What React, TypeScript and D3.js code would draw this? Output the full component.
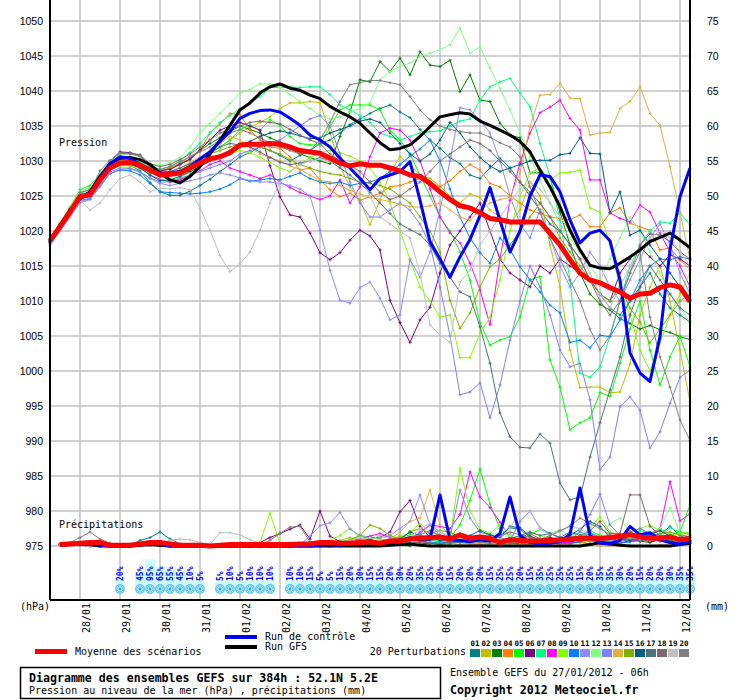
import React from 'react'
import * as d3 from 'd3'

// run of 27/01/2012 06h, one step every 6 hours, 384 hours
const RUN_START = Date.UTC(2012, 0, 27, 6)
const STEP_H = 6
const RANGE_H = 384

const pressureTicks = [975, 980, 985, 990, 995, 1000, 1005, 1010, 1015, 1020, 1025, 1030, 1035, 1040, 1045, 1050]
const precipTicks = [0, 5, 10, 15, 20, 25, 30, 35, 40, 45, 50, 55, 60, 65, 70, 75]

// probability of snow (%) per 6h step, 0 = nothing drawn
const snowPercent = [0, 0, 0, 0, 0, 0, 0, 20, 0, 45, 95, 65, 55, 45, 10, 5, 0, 5, 10, 5, 10, 10, 10, 0, 10, 10, 15, 5, 5, 15, 20, 30, 15, 15, 20, 30, 20, 35, 25, 20, 15, 20, 20, 20, 15, 25, 25, 20, 15, 35, 25, 25, 25, 15, 20, 35, 35, 30, 20, 15, 20, 20, 30, 35, 35]

// sea level pressure (hPa), 65 steps
const meanPressure = [1018.6, 1020.6, 1022.7, 1024.9, 1025.2, 1027.3, 1029.0, 1029.7, 1029.8, 1029.4, 1028.7, 1028.0, 1028.1, 1028.3, 1029.0, 1029.7, 1030.3, 1030.6, 1031.2, 1032.3, 1032.4, 1032.4, 1032.5, 1032.4, 1032.0, 1031.5, 1031.3, 1031.1, 1030.4, 1029.7, 1029.3, 1029.6, 1029.4, 1029.4, 1029.0, 1028.6, 1028.0, 1027.8, 1026.8, 1025.6, 1024.5, 1023.6, 1023.3, 1022.6, 1021.8, 1021.6, 1021.3, 1021.3, 1021.3, 1021.3, 1019.7, 1018.0, 1015.9, 1014.0, 1013.0, 1012.6, 1011.9, 1011.3, 1010.4, 1011.0, 1011.1, 1011.9, 1012.3, 1012.0, 1009.9]
const gfsPressure = [1018.6, 1020.8, 1023, 1024.6, 1025.6, 1027.8, 1029.6, 1030.4, 1030.5, 1030.2, 1029.5, 1028.3, 1027.3, 1026.9, 1027.8, 1029.2, 1031, 1033, 1035.1, 1037.3, 1038.3, 1039.7, 1040.6, 1041, 1040.4, 1040.1, 1039.4, 1038.9, 1037.8, 1037, 1036.3, 1035.4, 1034, 1032.6, 1031.6, 1031.8, 1032.3, 1033.5, 1034.9, 1036.3, 1036.6, 1036.9, 1036.7, 1035.7, 1035.1, 1034.4, 1033.7, 1032.8, 1031.3, 1028.7, 1026.3, 1023.5, 1020.1, 1017.3, 1015.1, 1014.7, 1014.6, 1015.4, 1016.3, 1017.3, 1018.5, 1019.1, 1019.7, 1018.7, 1017.6]
const controlPressure = [1018.6, 1020.8, 1022.8, 1024.8, 1025.5, 1027.6, 1029.6, 1030.6, 1030.4, 1029.5, 1028.6, 1028.3, 1028.3, 1028.5, 1029.2, 1030.3, 1031.3, 1032.8, 1034.2, 1036.1, 1036.8, 1037.2, 1037.3, 1037, 1036.1, 1035.1, 1033.7, 1033, 1032, 1030.4, 1029, 1027.5, 1025.9, 1027.5, 1028, 1028.5, 1029.9, 1024.4, 1018.5, 1016, 1013.4, 1016.3, 1018.8, 1022.2, 1026.2, 1021.5, 1017, 1020, 1025, 1028, 1027.8, 1025.6, 1021.6, 1018.3, 1019.7, 1020.1, 1018.6, 1013, 1002.6, 999.7, 998.5, 1004.9, 1017.3, 1024.9, 1029]

const p01Pressure = [1018.5, 1020.4, 1022.5, 1024.6, 1025.3, 1027.1, 1029.2, 1029.5, 1029.4, 1028.6, 1026.9, 1025.6, 1025.1, 1025.1, 1025.7, 1026.5, 1027.4, 1028.5, 1029.5, 1030.6, 1031.2, 1032, 1031.5, 1030.8, 1030, 1030.8, 1031.5, 1032.5, 1033, 1034, 1035.2, 1036, 1036.8, 1037.5, 1038, 1037, 1036.2, 1034.5, 1033, 1031.8, 1030.5, 1029.6, 1028, 1027.5, 1029, 1030.4, 1029, 1027, 1025, 1023, 1021, 1020, 1018, 1016, 1013, 1011, 1009, 1008, 1010, 1012, 1014, 1011, 1009, 1008, 1007]
const p02Pressure = [1018.7, 1020.8, 1022.8, 1025, 1025.3, 1027.4, 1029.3, 1029.9, 1029.8, 1029.3, 1028.4, 1027.8, 1028, 1028.6, 1029.4, 1030.3, 1031.2, 1032, 1033, 1034, 1034.8, 1035.5, 1036.3, 1037.5, 1038.3, 1038.3, 1038.5, 1038.3, 1034, 1029.2, 1026.3, 1024.4, 1020.9, 1024.4, 1028.3, 1030.6, 1029.5, 1028, 1027.5, 1026.4, 1025, 1024, 1025.3, 1024.8, 1023, 1022, 1021, 1023, 1027, 1025, 1018, 1012, 1003, 997.6, 997.7, 997.7, 996.9, 997, 1001, 1008, 1012, 1015, 1010, 1003, 995.6]
const p03Pressure = [1018.7, 1020.9, 1023, 1025.2, 1025.4, 1027.6, 1029.8, 1030.4, 1030.2, 1029.8, 1028.7, 1028.5, 1029, 1029.6, 1030.2, 1031.5, 1032.5, 1033.3, 1034.2, 1035, 1034.5, 1034, 1033.3, 1032.7, 1031.8, 1031, 1030.5, 1030, 1029.6, 1033.5, 1037, 1041.6, 1041.3, 1044.2, 1042.8, 1044.7, 1042.3, 1045.6, 1043.7, 1043.5, 1044.4, 1039.9, 1042.3, 1038.7, 1038.5, 1035.4, 1033.7, 1033.3, 1028.3, 1028.3, 1027.6, 1022.7, 1018, 1014, 1011, 1009.5, 1008.7, 1007.5, 1006.8, 1006, 1006.5, 1005.9, 1005.5, 1004.9, 1004.5]
const p04Pressure = [1018.6, 1020.7, 1022.9, 1025, 1025.5, 1027.6, 1029.5, 1030.2, 1030.1, 1029.6, 1028.9, 1028.6, 1029, 1029.7, 1030.6, 1031.5, 1034, 1035.3, 1036.8, 1036.6, 1034.4, 1033, 1032, 1031.8, 1030.6, 1028.7, 1029, 1027.3, 1025.9, 1024.9, 1025.4, 1024.4, 1024.9, 1025.4, 1026.3, 1026.5, 1027, 1027.5, 1027, 1026.3, 1027.2, 1028.5, 1029.5, 1028.7, 1026.8, 1026.3, 1025, 1024, 1023, 1022.5, 1022, 1021.8, 1021.6, 1022.3, 1020.6, 1020.6, 1022.6, 1023.3, 1021.1, 1020.6, 1020.1, 1017.3, 1017.6, 1015.9, 1014.5]
const p05Pressure = [1018.6, 1021, 1023.4, 1025.9, 1026.5, 1028, 1029.9, 1030.5, 1030.3, 1029.6, 1028.5, 1028.2, 1028, 1028.5, 1029.3, 1030.3, 1031, 1032, 1033, 1034.5, 1035.1, 1034.4, 1035.9, 1035.1, 1033.5, 1032.5, 1032.3, 1032.3, 1034.9, 1037.3, 1038, 1038, 1038, 1037.3, 1034.4, 1033, 1031, 1028, 1025, 1022, 1020, 1017, 1013, 1006.9, 1003.7, 1004.4, 1004.9, 1007.7, 1013, 1013.5, 1001.6, 997.7, 991.6, 992.6, 993.3, 996.9, 996.4, 1001.1, 1006, 1010, 1003, 998, 1002, 1005, 1000.6]
const p06Pressure = [1018.4, 1020.5, 1022.6, 1024.5, 1025.5, 1027.6, 1030, 1031.3, 1031.2, 1030.8, 1029.3, 1028.6, 1028.8, 1029.5, 1030.3, 1031.6, 1033, 1034.4, 1035, 1035.5, 1035, 1034.4, 1029.3, 1024.9, 1022.3, 1022, 1019.7, 1016.9, 1015.9, 1016.9, 1018.7, 1020.1, 1019.3, 1017.3, 1010.1, 1006.9, 1004.1, 1007.3, 1009.1, 1014, 1018, 1020, 1022, 1024, 1020, 1016, 1014, 1013, 1012, 1015, 1014, 1016, 1015, 1014, 1013, 1011, 1010, 1014, 1016, 1017.7, 1016.3, 1015, 1016.6, 1016, 1015]
const p07Pressure = [1018.6, 1020.8, 1022.9, 1025.3, 1026, 1027.8, 1029.5, 1030.3, 1030.2, 1029.8, 1029.2, 1028.8, 1029.2, 1030, 1031.2, 1032.5, 1034, 1035.5, 1036.5, 1037.5, 1038.3, 1039.2, 1040.5, 1040.5, 1040.6, 1040.5, 1040.6, 1040.6, 1039.5, 1038, 1037.3, 1036.5, 1035.5, 1034, 1033.5, 1033, 1033.5, 1034, 1034.2, 1034.3, 1035, 1035.7, 1036, 1038.7, 1040.6, 1041.3, 1041.8, 1039.7, 1037.8, 1032.5, 1027.8, 1021.6, 1013, 999.7, 999.1, 1000.6, 1005, 1010, 1015, 1018, 1020, 1021.3, 1021.1, 1022.6, 1020.9]
const p08Pressure = [1018.3, 1020.3, 1022.4, 1024.6, 1025, 1027, 1028.8, 1029.4, 1029.5, 1029.1, 1028, 1027.4, 1027, 1027.3, 1028, 1028.6, 1029.5, 1030, 1029, 1028.5, 1028, 1027.5, 1028, 1027, 1026.2, 1025.5, 1025, 1024.5, 1025, 1027.3, 1024, 1026.3, 1030.6, 1034, 1034.7, 1034.4, 1033, 1030, 1026, 1022, 1019.7, 1018.3, 1015.4, 1011.6, 1006.6, 1016, 1024.4, 1029.7, 1034, 1036.9, 1037.7, 1038.7, 1036.1, 1034.4, 1027.3, 1027.3, 1022.6, 1021.8, 1021.3, 1023.7, 1022.7, 1019.7, 1017, 1015, 1012]
const p09Pressure = [1018.5, 1020.5, 1022.6, 1024.7, 1025.1, 1027.1, 1028.8, 1029.3, 1029.3, 1028.9, 1028, 1027.3, 1027.2, 1027.6, 1028.4, 1029.3, 1030, 1030.5, 1031, 1031.5, 1031.2, 1030.5, 1029.8, 1029, 1028.5, 1029.5, 1030.5, 1031.2, 1031.5, 1031.2, 1030.7, 1030, 1029, 1027, 1024, 1020, 1016, 1012, 1010, 1007.7, 1008, 1001.9, 1001.9, 1005.4, 1007.7, 1013, 1020, 1025, 1028.3, 1029, 1027.3, 1028.3, 1028.4, 1028.7, 1023.3, 1022.7, 1018, 1012, 1008, 1003, 1000, 1004, 1008, 1011, 1014]
const p10Pressure = [1018.4, 1020.3, 1022.3, 1024.3, 1024.7, 1026.5, 1028.2, 1028.7, 1028.6, 1028, 1026.8, 1025.6, 1025.5, 1025.4, 1025.3, 1025.4, 1025.6, 1026, 1026.6, 1027.5, 1027.1, 1027.3, 1027.5, 1027.3, 1027.8, 1028.3, 1027.5, 1027, 1026.8, 1027, 1026.5, 1026.8, 1027, 1027.5, 1028.5, 1029.5, 1030.7, 1031.7, 1033, 1030, 1026, 1022, 1019, 1016.9, 1015.4, 1019, 1017.3, 1014.9, 1013, 1011.3, 1009.4, 1008.3, 1004.1, 1004.4, 1003.3, 1005.1, 1004.9, 1007.3, 1010, 1013, 1015, 1016, 1015.9, 1016.3, 1016]
const p11Pressure = [1018.2, 1020.2, 1022.2, 1024.2, 1024.6, 1026.6, 1028.4, 1029, 1029, 1028.5, 1027.5, 1026.8, 1026.5, 1026.8, 1027.2, 1027.5, 1028, 1028.3, 1028, 1027.6, 1027.2, 1027, 1027, 1026.8, 1026.5, 1026, 1025, 1020.1, 1014.4, 1010.1, 1009.7, 1011.9, 1012.7, 1010.4, 1007.3, 1008, 1015.9, 1013.4, 1017, 1023, 1030, 1037.6, 1037.3, 1035.9, 1034, 1030, 1025, 1021, 1019, 1023, 1019, 1015, 1012, 1014, 1017, 1015, 1012, 1010, 1013, 1016, 1019, 1021, 1018, 1014, 1011]
const p12Pressure = [1018.8, 1021.2, 1023.5, 1025.6, 1026.2, 1028.2, 1030, 1030.9, 1031, 1030.6, 1029.6, 1029.4, 1029.8, 1030.5, 1032, 1034, 1035.4, 1036.8, 1038.2, 1039.7, 1040.2, 1041, 1041, 1040.5, 1039.5, 1038.5, 1037.5, 1036.5, 1036, 1036.3, 1037, 1037.5, 1038.3, 1041.6, 1042.8, 1043.5, 1044, 1044.9, 1045.4, 1045.9, 1046.6, 1049, 1045.4, 1046.3, 1043.3, 1040.4, 1037.3, 1034, 1030.6, 1027.3, 1024, 1021, 1019, 1017, 1015, 1013, 1016, 1019, 1022, 1020, 1017, 1014, 1011, 1009, 1007]
const p13Pressure = [1018, 1020, 1022, 1024, 1024.5, 1026.3, 1028.2, 1028.8, 1028.9, 1028.4, 1027.6, 1027, 1027, 1027.5, 1028, 1028.5, 1029, 1029.5, 1030, 1031, 1031.5, 1032, 1032.5, 1033, 1034, 1035, 1036, 1036.5, 1035, 1031, 1027, 1024, 1022, 1022, 1023, 1024, 1023, 1021, 1018, 1012, 1005, 996.6, 997, 998.3, 993.3, 998, 1004.4, 1010, 1015, 1012, 1008, 1003, 1000.6, 1001.1, 995.9, 985.9, 987.7, 994.9, 996.3, 994.4, 989, 991.3, 995.4, 999.1, 1000.1]
const p14Pressure = [1018.6, 1020.7, 1022.9, 1025.1, 1025.4, 1027.5, 1029.4, 1030, 1030, 1029.5, 1028.6, 1028.2, 1028.5, 1029, 1029.8, 1030.6, 1031.5, 1032.5, 1033.5, 1033, 1032, 1031, 1030.5, 1030, 1029.3, 1028.8, 1028, 1027.2, 1027, 1026.5, 1025.8, 1025.3, 1024.8, 1024.5, 1024.2, 1023.8, 1023.5, 1023.4, 1023.6, 1024, 1023, 1022, 1021.5, 1023, 1024, 1024.5, 1024.8, 1028.3, 1034.9, 1039.4, 1039.5, 1041.1, 1039, 1038.9, 1033.7, 1034, 1034.1, 1037.5, 1038.5, 1040.6, 1036.8, 1035.1, 1029.2, 1022.6, 1015.9]
const p15Pressure = [1018.5, 1020.6, 1022.7, 1024.8, 1025.2, 1027.2, 1029, 1029.6, 1029.6, 1029.1, 1028.3, 1027.9, 1028.2, 1028.7, 1029.5, 1030.2, 1031, 1031.5, 1032, 1032.5, 1032.3, 1032, 1031.5, 1031, 1030.2, 1029.5, 1029, 1028.5, 1028.2, 1028, 1027.5, 1027, 1026.8, 1026.5, 1026, 1025, 1024, 1022, 1020, 1017, 1010.1, 1006.1, 1008.3, 1012, 1014.9, 1016, 1018, 1020, 1022, 1024, 1022, 1019, 1017, 1015, 1013, 1011, 1010, 1012, 1009, 1007, 1004, 1006, 1008, 1010, 1011]
const p16Pressure = [1018.5, 1020.5, 1022.6, 1024.6, 1025, 1027, 1028.9, 1029.5, 1029.6, 1029, 1028, 1027.2, 1027.3, 1027.8, 1028.5, 1029.2, 1030, 1030.8, 1031.5, 1032, 1032.8, 1033.5, 1034, 1034.3, 1034, 1033.6, 1033.2, 1033.3, 1034, 1034.5, 1035, 1035.7, 1036, 1035.5, 1034, 1032.5, 1031, 1030, 1031, 1033, 1035.5, 1034, 1032, 1030.5, 1029.3, 1028.5, 1029, 1029.5, 1030, 1030.1, 1030.1, 1030.9, 1031.1, 1033.3, 1031.1, 1031, 1022.6, 1025.6, 1019.4, 1020.1, 1018, 1016, 1014, 1012, 1010]
const p17Pressure = [1018.6, 1020.6, 1022.8, 1024.9, 1025.3, 1027.4, 1029.2, 1029.8, 1029.9, 1029.5, 1028.8, 1028.3, 1028.5, 1029, 1029.6, 1030.4, 1031.2, 1032, 1032.5, 1032.3, 1032, 1031.3, 1030.5, 1029.8, 1029.5, 1029.7, 1030, 1030.5, 1030, 1029, 1028, 1026.8, 1025.5, 1024, 1022.5, 1021, 1020.2, 1019.5, 1018, 1015.4, 1013.4, 1011.3, 1010.6, 1006.3, 1001.1, 994, 990.6, 989.1, 989, 991, 989.7, 984, 981.6, 982, 987.7, 992.6, 997.3, 1002, 1008, 1012, 1015, 1013, 1011, 1009, 1008]
const p18Pressure = [1018.7, 1021, 1023.2, 1025.5, 1025.9, 1027.9, 1030, 1031.2, 1031.1, 1030.9, 1029.6, 1029.2, 1029.5, 1030.2, 1031, 1032, 1033, 1034, 1034.5, 1035, 1035.5, 1035.7, 1035.5, 1035.3, 1034.5, 1033.7, 1033, 1032.5, 1031, 1030, 1029.4, 1028.5, 1027, 1025.5, 1024.5, 1025, 1026, 1027, 1028.5, 1030, 1031, 1032, 1033, 1032.5, 1031.5, 1030, 1028.5, 1027, 1025.5, 1024, 1022, 1020, 1018, 1016, 1013, 1010, 1008, 1010, 1014, 1018, 1019.6, 1019.4, 1018.5, 1017, 1016]
const p19Pressure = [1018.3, 1020.1, 1022.1, 1024.4, 1023, 1024, 1025.9, 1027.5, 1028, 1027, 1025.6, 1026.1, 1026, 1026.2, 1025.9, 1023.3, 1020.1, 1016.5, 1014.2, 1015.3, 1017, 1020.1, 1024, 1027, 1028.5, 1029.5, 1030, 1030.3, 1030, 1029.5, 1029.5, 1028, 1025, 1022, 1021, 1020, 1019, 1014, 1006.6, 1005.1, 1004.1, 1012.7, 1014.4, 1018, 1020, 1022, 1024, 1026, 1027, 1026, 1024, 1022, 1020, 1017, 1014, 1011, 1009, 1012, 1015, 1017, 1019, 1020, 1019, 1017, 1015]
const p20Pressure = [1018.7, 1020.9, 1023.1, 1025.2, 1025.6, 1028.6, 1030.1, 1031.1, 1031, 1030.7, 1029.3, 1028.8, 1029.2, 1029.9, 1030.6, 1031.3, 1032, 1033, 1034, 1034.5, 1034, 1033.3, 1032.6, 1032, 1031.5, 1031, 1031.5, 1033, 1035.5, 1038.5, 1040.9, 1041.2, 1041.5, 1041.5, 1041.2, 1040.9, 1039.2, 1037.3, 1035.9, 1035, 1034.5, 1034.2, 1034, 1034, 1033.4, 1032.6, 1032, 1030.6, 1026.3, 1022.6, 1019, 1016, 1013, 1010, 1006, 1003, 1005, 1010, 1014, 1017, 1007.7, 1002, 997.7, 993, 990.1]

// precipitation (mm per 6h), 64 steps starting at +6h
const meanPrecip = [0.2, 0.3, 0.4, 0.5, 0.5, 0.1, 0.1, 0.1, 0.3, 0.5, 0.5, 0.3, 0.1, 0.1, 0.1, 0, 0.1, 0.2, 0.2, 0.2, 0.2, 0.2, 0.2, 0.2, 0.3, 0.3, 0.5, 0.5, 0.4, 0.4, 0.5, 0.6, 0.4, 0.7, 0.7, 1.0, 1.1, 1.2, 1.3, 1.0, 1.6, 1.1, 1.3, 1.1, 0.5, 0.9, 0.8, 0.7, 0.7, 0.8, 0.9, 1.0, 1.1, 1.1, 1.1, 1.2, 1.4, 1.6, 1.3, 1.1, 1.1, 1.3, 0.9, 1.1]
const gfsPrecip = [0.2, 0.3, 0.3, 0.2, 0, 0, 0, 0, 0.1, 0.2, 0.1, 0, 0, 0, 0, 0, 0, 0, 0, 0, 0, 0, 0, 0, 0, 0, 0, 0, 0, 0, 0, 0, 0, 0.1, 0.2, 0.3, 0.1, 0, 0, 0, 0, 0, 0, 0, 0, 0, 0, 0, 0, 0, 0, 0, 0, 0.2, 0.5, 0.3, 0.1, 0, 0, 0, 0, 0, 0.2, 0.4]
const controlPrecip = [0.1, 0.2, 0.3, 0.2, 0.1, 0, 0, 0, 0.2, 0.3, 0.2, 0, 0, 0, 0, 0, 0, 0, 0, 0, 0, 0, 0, 0, 0, 0, 0.1, 0.2, 0.1, 0.3, 0.5, 0.8, 0.3, 0.5, 0.8, 1.2, 0.9, 1.0, 7.3, 0.9, 0.8, 0.6, 0.9, 0.7, 1.8, 7.0, 1.5, 0.5, 0.3, 0.4, 0.6, 1.7, 8.3, 1.5, 0.4, 0.3, 0.8, 2.8, 1.6, 1.9, 0.9, 0.5, 0.3, 0.6]

const p01Precip = [0.3, 0.2, 0.4, 0.6, 0.3, 0.1, 0, 0.1, 0.8, 1.2, 2.0, 1.0, 0.3, 0.1, 0, 0, 0, 0, 0, 0, 0, 0, 0, 0, 0, 0.2, 0.5, 0.3, 0.2, 0.4, 0.8, 0.5, 0.6, 0.4, 0.9, 1.2, 0.7, 0.5, 0.3, 0.8, 1.0, 0.6, 0.4, 0.7, 1.5, 2.6, 2.4, 1.2, 0.6, 0.4, 0.8, 0.5, 1.0, 1.8, 1.2, 0.6, 0.9, 1.2, 1.4, 1.0, 1.6, 2.8, 1.5, 0.8]
const p02Precip = [0.2, 0.4, 0.3, 0.1, 0, 0, 0, 0, 0.1, 0.3, 0.2, 0, 0, 0, 0, 0, 0, 0, 0, 0, 0, 0, 0, 0, 0, 0, 0.1, 0.3, 0.8, 1.2, 0.6, 0.4, 0.3, 0.8, 1.5, 1.0, 0.5, 0.3, 0.8, 0.4, 0.2, 0.3, 0.5, 0.2, 0.1, 0.3, 0.4, 0.6, 0.9, 1.3, 0.8, 0.4, 0.6, 0.3, 0.5, 0.7, 1.0, 0.6, 0.8, 1.2, 0.9, 1.5, 1.1, 0.6]
const p03Precip = [0.1, 0.3, 0.2, 0.1, 0, 0, 0, 0, 0.2, 0.4, 0.3, 0.1, 0, 0, 0, 0, 0, 0, 0, 0, 0, 0, 0, 0, 0, 0, 0, 0, 0, 0.1, 0.2, 0.1, 0.1, 0.2, 0.1, 0, 0.3, 0.4, 0.2, 0.1, 0, 0.1, 0.2, 0.1, 0, 0, 0.1, 0.3, 0.6, 0.8, 0.5, 1.0, 1.3, 0.8, 0.4, 0.6, 0.9, 1.2, 0.7, 0.5, 1.0, 0.8, 0.6, 0.4]
const p04Precip = [0.2, 0.4, 0.5, 0.3, 0.1, 0, 0, 0, 0.1, 0.2, 0.1, 0, 0, 0, 0, 0, 0, 0, 0, 0, 0, 0, 0, 0, 0, 0, 0, 0.2, 0.4, 0.3, 0.6, 0.8, 0.4, 0.3, 0.5, 0.2, 0.6, 0.9, 1.2, 0.8, 0.5, 0.3, 0.2, 0.4, 0.3, 0.5, 0.2, 0.1, 0.3, 0.6, 0.8, 1.0, 0.5, 0.3, 0.2, 0.4, 0.6, 1.2, 1.5, 1.1, 0.8, 1.4, 2.0, 1.6]
const p05Precip = [0.3, 0.5, 0.4, 0.2, 0.1, 0, 0, 0, 0.2, 0.5, 0.3, 0.1, 0, 0, 0, 0, 0, 0, 0, 0, 0, 0, 0, 0, 0, 0, 0.2, 0.4, 0.6, 0.9, 1.5, 1.3, 1.0, 0.8, 1.2, 1.6, 1.4, 1.0, 0.6, 1.2, 3.0, 6.5, 11.0, 6.0, 2.5, 1.3, 0.9, 1.6, 2.4, 1.8, 1.2, 0.7, 1.0, 2.2, 1.5, 0.8, 1.2, 0.9, 1.5, 1.8, 2.5, 1.6, 2.0, 5.9]
const p06Precip = [0.2, 0.3, 0.1, 0, 0, 0, 0, 0, 0.1, 0.2, 0.1, 0, 0, 0, 0, 0, 0, 0, 0, 0, 0.5, 1.2, 1.8, 2.4, 3.0, 1.0, 5.0, 1.4, 0.6, 0.3, 0.8, 1.2, 1.2, 2.0, 4.9, 6.5, 2.8, 1.2, 0.8, 1.0, 0.6, 0.9, 0.4, 1.1, 0.7, 0.5, 0.3, 0.6, 0.8, 0.5, 0.4, 0.6, 0.9, 1.2, 0.7, 0.5, 0.4, 0.8, 1.0, 0.6, 0.9, 1.1, 0.7, 0.5]
const p07Precip = [0.2, 0.3, 0.2, 0.1, 0, 0, 0, 0, 0.1, 0.2, 0.1, 0, 0, 0, 0, 0, 0, 0, 0, 0, 0, 0, 0, 0, 0, 0, 0, 0, 0.1, 0.2, 0.3, 0.5, 0.4, 0.6, 0.3, 0.5, 0.8, 0.6, 0.4, 0.3, 0.5, 0.4, 0.6, 0.3, 0.2, 0.4, 0.6, 0.8, 0.5, 0.4, 0.9, 1.4, 2.0, 1.5, 0.8, 0.6, 1.0, 1.5, 2.2, 1.8, 1.2, 2.6, 2.0, 1.7]
const p08Precip = [0.1, 0.2, 0.1, 0, 0, 0, 0, 0, 0.1, 0.2, 0.1, 0, 0, 0, 0, 0, 0, 0, 0, 0, 0, 0, 0, 0, 0, 0, 0.2, 0.3, 0.5, 0.8, 1.0, 1.4, 1.8, 1.2, 1.0, 0.8, 2.0, 3.0, 2.8, 2.5, 4.5, 10.6, 7.0, 5.5, 3.4, 1.2, 0.8, 0.5, 0.9, 1.2, 0.6, 0.4, 0.7, 1.0, 0.8, 0.6, 1.2, 0.9, 0.7, 1.5, 2.5, 9.2, 3.6, 4.6]
const p09Precip = [0.2, 0.4, 0.3, 0.1, 0, 0, 0, 0, 0.1, 0.3, 0.2, 0, 0, 0, 0, 0, 0, 0, 0, 0, 0.5, 4.7, 0.3, 0.1, 0.1, 0.2, 0.5, 0.8, 1.5, 2.5, 1.2, 0.8, 0.6, 0.9, 1.2, 2.0, 3.2, 2.0, 1.5, 1.0, 11.1, 5.0, 2.4, 1.8, 3.0, 1.6, 1.2, 2.0, 1.5, 1.0, 0.8, 1.2, 0.9, 2.6, 4.2, 2.0, 1.5, 1.0, 2.5, 3.0, 2.2, 1.4, 1.8, 2.0]
const p10Precip = [0.3, 0.2, 0.5, 0.4, 0.1, 0, 0, 0, 0.2, 0.4, 0.3, 0.1, 0, 0, 0, 0, 0, 0, 0, 0, 0, 0, 0, 0, 0, 0, 0.1, 0.2, 0.3, 0.5, 0.8, 0.6, 0.5, 0.3, 0.9, 1.1, 0.8, 0.5, 0.6, 0.4, 0.7, 0.9, 1.2, 0.8, 0.6, 0.4, 0.3, 0.5, 0.8, 0.6, 0.4, 0.3, 0.6, 0.9, 0.7, 0.5, 0.4, 0.6, 0.8, 1.0, 0.7, 0.5, 0.9, 0.6]
const p11Precip = [0.2, 0.4, 0.3, 0.1, 0, 0, 0, 0, 0.1, 0.2, 0.1, 0, 0, 0, 0, 0, 0, 0, 0, 0, 0, 0, 0, 0, 0.2, 1.4, 2.9, 3.3, 4.8, 2.4, 1.5, 1.0, 1.2, 1.5, 2.5, 3.5, 7.3, 3.0, 2.0, 1.2, 0.5, 0.9, 1.3, 0.8, 0.6, 1.1, 0.9, 0.6, 0.8, 1.0, 0.7, 0.9, 1.4, 2.0, 1.2, 0.8, 0.6, 1.0, 1.5, 0.9, 0.7, 0.5, 0.8, 0.6]
const p12Precip = [0.3, 0.5, 0.4, 0.2, 0.1, 0, 0, 0, 0.1, 0.3, 0.2, 0, 0, 0, 0, 0, 0, 0, 0, 0, 0, 0, 0, 0, 0, 0, 0, 0.1, 0.3, 0.5, 0.8, 1.2, 0.9, 0.7, 1.0, 1.4, 0.9, 0.6, 0.8, 1.1, 1.6, 1.2, 0.9, 1.5, 2.0, 1.4, 1.0, 0.8, 1.2, 1.8, 2.3, 1.5, 1.0, 0.8, 1.3, 3.2, 4.0, 2.0, 1.5, 1.2, 2.5, 5.5, 1.8, 1.2]
const p13Precip = [0.1, 0.2, 0.1, 0, 0, 0, 0, 0, 0, 0.1, 0, 0, 0, 0, 0, 0, 0, 0, 0, 0, 0, 0, 0, 0, 0, 0, 0, 0, 0.1, 0.2, 0.1, 0.3, 0.5, 0.8, 0.6, 1.0, 1.8, 3.0, 1.5, 1.2, 8.0, 4.0, 2.0, 1.5, 1.2, 0.8, 3.5, 5.0, 2.6, 1.8, 1.2, 0.9, 2.0, 4.5, 7.4, 3.0, 1.5, 2.0, 1.2, 0.8, 1.6, 1.0, 0.7, 0.5]
const p14Precip = [0.2, 0.3, 0.5, 0.3, 0.1, 0, 0, 0, 0.1, 0.2, 0.1, 0, 0, 0, 0, 0, 0, 0, 0, 0, 0, 0, 0, 0, 0, 0, 0, 0, 0, 0.1, 0.2, 0.3, 0.5, 1.0, 2.0, 3.5, 4.0, 8.0, 3.0, 1.5, 1.0, 0.6, 0.4, 0.3, 0.2, 0.1, 0.2, 0.1, 0, 0.1, 0.2, 0.1, 0, 0.1, 0, 0, 0, 0.1, 0, 0, 0.2, 0.3, 0.6, 1.5]
const p15Precip = [0.2, 0.4, 0.3, 0.2, 0.1, 0, 0, 0, 0.1, 0.2, 0.1, 0, 0, 0, 0, 0, 0, 0, 0, 0, 0, 0, 0, 0, 0, 0, 0.1, 0.2, 0.4, 0.8, 1.5, 3.0, 2.5, 1.5, 1.0, 2.0, 2.5, 1.8, 2.2, 2.0, 1.2, 0.8, 1.5, 1.0, 0.8, 0.6, 1.0, 1.4, 0.8, 0.6, 1.0, 1.2, 0.9, 0.6, 0.8, 1.0, 1.5, 2.0, 1.4, 1.2, 1.8, 2.0, 1.6, 1.3]
const p16Precip = [0.2, 0.3, 0.2, 0.1, 0, 0, 0, 0, 0.1, 0.2, 0.1, 0, 0, 0, 0, 0, 0, 0, 0, 0, 0, 0, 0, 0, 0, 0, 0, 0.1, 0.2, 0.3, 0.4, 0.6, 0.5, 0.8, 1.0, 2.0, 1.5, 1.2, 0.8, 1.0, 0.7, 1.5, 2.2, 1.6, 1.2, 2.8, 2.6, 1.4, 0.9, 1.2, 0.8, 1.5, 2.4, 3.5, 2.8, 1.2, 1.0, 0.8, 1.2, 1.6, 2.2, 1.4, 1.0, 0.8]
const p17Precip = [0.1, 0.3, 0.2, 0.1, 0, 0, 0, 0, 0.1, 0.2, 0.1, 0, 0, 0, 0, 0, 0, 0, 0, 0, 0, 0, 0, 0, 0, 0, 0, 0, 0.1, 0.2, 0.4, 0.3, 0.2, 0.3, 0.5, 0.4, 0.6, 0.8, 1.0, 0.6, 0.5, 0.8, 1.2, 0.9, 0.7, 1.0, 1.5, 2.0, 1.5, 1.8, 1.2, 2.0, 1.5, 1.0, 0.8, 0.6, 0.9, 1.2, 0.7, 1.0, 0.8, 0.6, 0.5, 0.4]
const p18Precip = [0.2, 0.4, 0.3, 0.1, 0, 0, 0, 0, 0.1, 0.3, 0.2, 0, 0, 0, 0, 0, 0, 0, 0, 0, 0, 0, 0, 0, 0, 0, 0, 0, 0.1, 0.2, 0.1, 0.3, 0.4, 0.2, 0.5, 0.3, 0.6, 0.4, 0.3, 0.5, 0.8, 1.0, 0.6, 0.4, 0.7, 0.5, 1.2, 1.8, 1.0, 0.8, 0.6, 0.9, 1.5, 2.2, 3.5, 1.8, 1.8, 7.3, 7.3, 2.8, 1.5, 1.0, 0.8, 1.2]
const p19Precip = [0.1, 0.2, 0.1, 0, 0, 0, 0, 0, 0, 0.1, 0.3, 0.8, 1.0, 0.9, 0.5, 0.2, 1.9, 1.9, 1.6, 0.9, 0.4, 0.2, 0.1, 0, 0, 0, 0, 0.2, 0.5, 0.8, 1.2, 0.9, 1.5, 1.0, 0.8, 1.2, 2.5, 3.2, 2.0, 1.4, 1.0, 0.8, 1.5, 1.2, 0.9, 2.6, 4.9, 4.9, 2.5, 1.5, 2.0, 3.0, 2.4, 1.6, 1.2, 0.9, 1.5, 1.2, 1.0, 0.8, 1.4, 1.0, 0.7, 0.6]
const p20Precip = [0.2, 0.5, 1.2, 2.0, 1.0, 0.4, 0.2, 0, 0.1, 0.3, 0.2, 0, 0, 0, 0, 0, 0, 0, 0, 0, 0.2, 0.8, 1.8, 2.7, 2.8, 0.6, 0.4, 0.3, 0.5, 0.4, 0.8, 0.6, 0.5, 0.9, 1.2, 0.8, 1.6, 2.2, 1.5, 1.0, 0.8, 1.2, 1.0, 0.7, 1.4, 2.0, 1.6, 1.2, 0.9, 1.5, 2.2, 2.8, 4.0, 3.2, 2.5, 1.6, 1.2, 2.0, 2.5, 1.8, 1.5, 1.2, 1.0, 0.8]

const perturbationIds = ['01', '02', '03', '04', '05', '06', '07', '08', '09', '10', '11', '12', '13', '14', '15', '16', '17', '18', '19', '20']
const perturbationColors = ['#008080', '#c0c000', '#008000', '#ff8000', '#00ff00', '#800080', '#00ff80', '#ff00ff', '#80ff00', '#0080ff', '#8c8cff', '#80ff80', '#8080ff', '#e0b040', '#80b000', '#006080', '#507080', '#806870', '#c0c0c0', '#808080']
const perturbationPressure = [p01Pressure, p02Pressure, p03Pressure, p04Pressure, p05Pressure, p06Pressure, p07Pressure, p08Pressure, p09Pressure, p10Pressure, p11Pressure, p12Pressure, p13Pressure, p14Pressure, p15Pressure, p16Pressure, p17Pressure, p18Pressure, p19Pressure, p20Pressure]
const perturbationPrecip = [p01Precip, p02Precip, p03Precip, p04Precip, p05Precip, p06Precip, p07Precip, p08Precip, p09Precip, p10Precip, p11Precip, p12Precip, p13Precip, p14Precip, p15Precip, p16Precip, p17Precip, p18Precip, p19Precip, p20Precip]

const mono = "'DejaVu Sans Mono', 'Liberation Mono', monospace"
const sans = "'Liberation Sans', Arial, sans-serif"

const stepDate = (i) => new Date(RUN_START + i * STEP_H * 3600e3)

const App = () => {
  const width = 740
  const height = 700
  const left = 50
  const right = 690
  const bottom = 600

  const x = d3.scaleUtc().domain([stepDate(0), stepDate(RANGE_H / STEP_H)]).range([left, right])
  const yP = d3.scaleLinear().domain([975, 1050]).range([546, 21])
  const yR = d3.scaleLinear().domain([0, 75]).range([546, 21])
  const snowH = d3.scaleLinear().domain([0, 100]).range([0, 25])

  const pressureLine = d3.line<number>().x((_, i) => x(stepDate(i))).y(d => yP(d))
  const precipLine = d3.line<number>().x((_, i) => x(stepDate(i + 1))).y(d => yR(d))

  // little "+" marks on every step of the thin lines
  const crosses = (vals, off, yScale) => vals.map((v, i) => {
    const px = x(stepDate(i + off)), py = yScale(v)
    return `M${px - 1.5},${py}h3M${px},${py - 1.5}v3`
  }).join('')

  const days = x.ticks(d3.utcDay.every(1)).filter(d => d > stepDate(0))
  const fmt = d3.utcFormat('%d/%m')

  return (
    <svg width={width} height={height} style={{ position: 'absolute', left: 0, top: 0, background: '#fff' }}>
      <rect width={width} height={height} fill="#fff" />

      {/* grid */}
      {pressureTicks.map(t => (
        <line key={'h' + t} x1={left} x2={right} y1={yP(t)} y2={yP(t)} stroke="#c0c0c0" strokeWidth={1.5} />
      ))}
      {days.map(d => (
        <line key={'v' + d.getTime()} x1={x(d)} x2={x(d)} y1={0} y2={bottom} stroke="#c0c0c0" strokeWidth={1.5} />
      ))}

      {/* snow probability row */}
      {snowPercent.map((p, i) => p > 0 && (
        <rect key={'sb' + i} x={x(stepDate(i)) - 5} y={583 - snowH(p)} width={10} height={snowH(p) + 6} fill="#ccffff" />
      ))}
      {snowPercent.map((p, i) => p > 0 && (
        <g key={'sf' + i} transform={`translate(${x(stepDate(i))},589)`}>
          <circle r={5} fill="#66c8f0" />
          <path d="M-4,0h8M0,-4v8M-3,-3l6,6M-3,3l6,-6" stroke="#d8f4ff" strokeWidth={0.8} />
          <circle r={1.2} fill="#3a9be0" />
        </g>
      ))}
      {snowPercent.map((p, i) => p > 0 && (
        <text key={'st' + i} transform={`translate(${x(stepDate(i)) + 2.5},581) rotate(-90)`} fontFamily={mono} fontSize={8} fontWeight="bold" fill="#0000ff">{p}%</text>
      ))}

      {/* perturbations */}
      {perturbationPressure.map((vals, k) => (
        <g key={'pp' + k} stroke={perturbationColors[k]} fill="none" strokeWidth={1}>
          <path d={pressureLine(vals)} />
          <path d={crosses(vals, 0, yP)} />
          <path d={precipLine(perturbationPrecip[k])} />
          <path d={crosses(perturbationPrecip[k], 1, yR)} />
        </g>
      ))}

      {/* GFS, control, mean */}
      <g fill="none" strokeLinejoin="round">
        <path d={pressureLine(gfsPressure)} stroke="#000" strokeWidth={3} />
        <path d={precipLine(gfsPrecip)} stroke="#000" strokeWidth={3} />
        <path d={pressureLine(controlPressure)} stroke="#0000ff" strokeWidth={3} />
        <path d={precipLine(controlPrecip)} stroke="#0000ff" strokeWidth={3} />
        <path d={pressureLine(meanPressure)} stroke="#ff0000" strokeWidth={5} />
        <path d={precipLine(meanPrecip)} stroke="#ff0000" strokeWidth={5} />
      </g>

      {/* axes frame */}
      <line x1={left} x2={left} y1={0} y2={bottom} stroke="#000" strokeWidth={2} />
      <line x1={right} x2={right} y1={0} y2={bottom} stroke="#000" strokeWidth={2} />
      <line x1={left} x2={right} y1={bottom} y2={bottom} stroke="#000" strokeWidth={2} />

      {pressureTicks.map(t => (
        <text key={'lt' + t} x={43} y={yP(t)} dy="0.36em" textAnchor="end" fontFamily={sans} fontSize={10.5} fill="#000">{t}</text>
      ))}
      {precipTicks.map(t => (
        <text key={'rt' + t} x={707} y={yR(t)} dy="0.36em" fontFamily={sans} fontSize={10.5} fill="#000">{t}</text>
      ))}
      {days.map(d => (
        <text key={'dt' + d.getTime()} transform={`translate(${x(d) + 10},603) rotate(-90)`} textAnchor="end" fontFamily={mono} fontSize={10} fill="#000">{fmt(d)}</text>
      ))}

      <text x={59} y={146} fontFamily={mono} fontSize={10} fill="#000">Pression</text>
      <text x={59} y={528} fontFamily={mono} fontSize={10} fill="#000">Précipitations</text>
      <text x={20} y={610} fontFamily={mono} fontSize={10} fill="#000">(hPa)</text>
      <text x={705} y={610} fontFamily={mono} fontSize={10} fill="#000">(mm)</text>

      {/* legend */}
      <rect x={225} y={635} width={32} height={4} fill="#0000ff" />
      <text x={265} y={640} fontFamily={mono} fontSize={10} fill="#000">Run de contrôle</text>
      <rect x={225} y={645} width={32} height={4} fill="#000" />
      <text x={265} y={650} fontFamily={mono} fontSize={10} fill="#000">Run GFS</text>
      <rect x={35} y={649} width={32} height={5} fill="#ff0000" />
      <text x={75} y={655} fontFamily={mono} fontSize={10} fill="#000">Moyenne des scénarios</text>
      <text x={466} y={655} textAnchor="end" fontFamily={mono} fontSize={10} fill="#000">20 Perturbations</text>
      {perturbationIds.map((id, k) => (
        <g key={'lg' + id}>
          <text x={475 + 11 * k} y={646} textAnchor="middle" fontFamily={mono} fontSize={7.5} fontWeight="bold" fill="#000">{id}</text>
          <rect x={470 + 11 * k} y={649} width={10} height={8} fill={perturbationColors[k]} />
        </g>
      ))}

      {/* title box */}
      <rect x={20.5} y={667.5} width={420} height={31} fill="none" stroke="#000" strokeWidth={1.5} />
      <text x={29} y={682} fontFamily={mono} fontSize={11.6} fontWeight="bold" fill="#000">Diagramme des ensembles GEFS sur 384h : 52.1N 5.2E</text>
      <text x={29} y={694} fontFamily={mono} fontSize={10} fill="#000">Pression au niveau de la mer (hPa) , précipitations (mm)</text>
      <text x={450} y={676} fontFamily={mono} fontSize={10} fill="#000">Ensemble GEFS du 27/01/2012 - 06h</text>
      <text x={450} y={694} fontFamily={mono} fontSize={11.6} fontWeight="bold" fill="#000">Copyright 2012 Meteociel.fr</text>
    </svg>
  )
}

export default App
